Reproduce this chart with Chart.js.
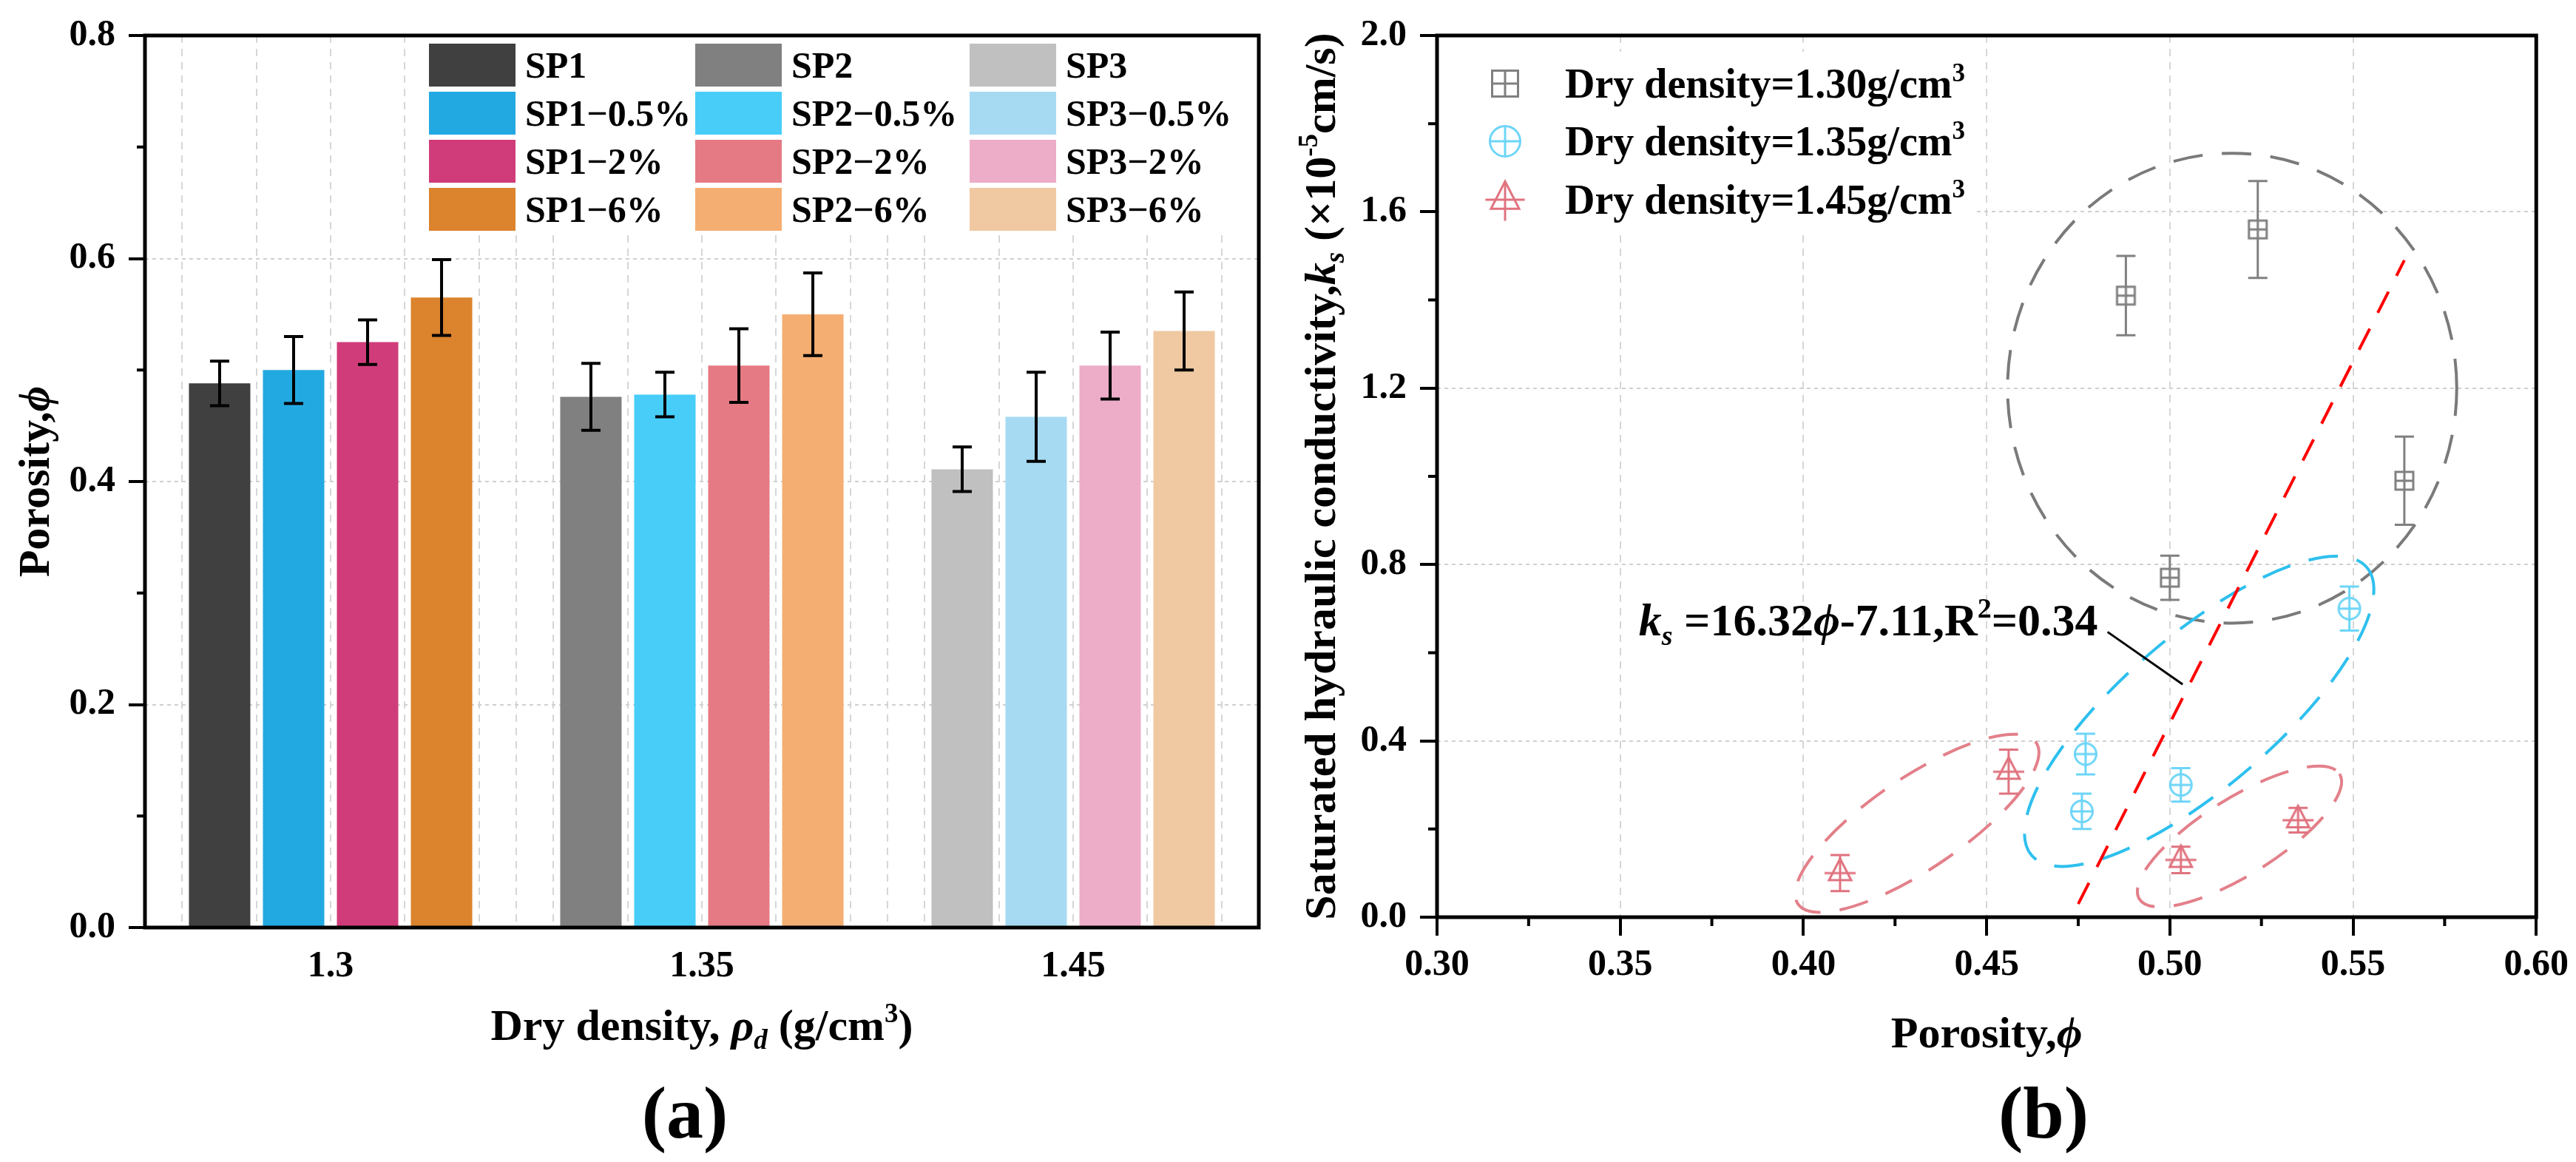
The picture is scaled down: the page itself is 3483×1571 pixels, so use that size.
<!DOCTYPE html>
<html>
<head>
<meta charset="utf-8">
<title>Porosity and saturated hydraulic conductivity</title>
<script src="https://cdn.jsdelivr.net/npm/chart.js@4.4.1/dist/chart.umd.min.js"></script>
<style>
  html, body { margin: 0; padding: 0; background: #fff; }
  #wrap { position: relative; width: 3483px; height: 1571px; }
  canvas { position: absolute; top: 0; }
  #porosityChart { left: 0; }
  #ksChart { left: 1720px; }
</style>
</head>
<body>
<div id="wrap">
  <canvas id="porosityChart" width="1720" height="1571"></canvas>
  <canvas id="ksChart" width="1763" height="1571"></canvas>
</div>
<script>
// (a) porosity by dry density
const densityLabels = ["1.3", "1.35", "1.45"];
const sp1Names = ["SP1", "SP1−0.5%", "SP1−2%", "SP1−6%"];
const sp2Names = ["SP2", "SP2−0.5%", "SP2−2%", "SP2−6%"];
const sp3Names = ["SP3", "SP3−0.5%", "SP3−2%", "SP3−6%"];
const sp1Porosity = [0.488, 0.500, 0.525, 0.565];
const sp2Porosity = [0.476, 0.478, 0.504, 0.550];
const sp3Porosity = [0.411, 0.458, 0.504, 0.535];
const sp1Error = [0.020, 0.030, 0.020, 0.034];
const sp2Error = [0.030, 0.020, 0.033, 0.037];
const sp3Error = [0.020, 0.040, 0.030, 0.035];
const porosityTicks = [0, 0.2, 0.4, 0.6, 0.8];

// (b) ks against porosity
const phi130 = [0.488, 0.524, 0.564, 0.500];
const ks130 = [1.41, 1.56, 0.99, 0.77];
const err130 = [0.09, 0.11, 0.10, 0.05];
const phi135 = [0.549, 0.477, 0.476, 0.503];
const ks135 = [0.70, 0.37, 0.24, 0.30];
const err135 = [0.05, 0.046, 0.04, 0.038];
const phi145 = [0.410, 0.456, 0.503, 0.535];
const ks145 = [0.10, 0.33, 0.13, 0.22];
const err145 = [0.041, 0.05, 0.03, 0.028];
const fitPhi = [0.475, 0.564];
const fitKs = [0.03, 1.49];
const phiTicks = [0.30, 0.35, 0.40, 0.45, 0.50, 0.55, 0.60];
const ksTicks = [0, 0.4, 0.8, 1.2, 1.6, 2.0];
// dashed ellipses: centre and two semi-axes, in data units
const ellipseCentres = [[0.517, 1.200], [0.508, 0.467], [0.431, 0.213], [0.519, 0.183]];
const ellipseAxisA = [[0.0613, 0], [0.0457, 0.327], [0.0325, 0.183], [0.0273, 0.142]];
const ellipseAxisB = [[0, 0.533], [0.0136, -0.130], [0.0071, -0.0855], [0.0056, -0.0733]];
const fitLabelFrom = [0.483, 0.647];
const fitLabelTo = [0.5035, 0.528];

const SERIF = "'Liberation Serif', 'DejaVu Serif', serif";
Chart.defaults.font.family = SERIF;
Chart.defaults.color = "#000";

function fontStr(size, italic) {
  return (italic ? "italic " : "") + "bold " + size + "px " + SERIF;
}

// parts: [text, flags]  i = italic, ^ = superscript, _ = subscript
function drawRich(ctx, parts, x, y, size, align) {
  let w = 0;
  const pieces = parts.map((p) => {
    const f = p[1] || "";
    const small = f.includes("^") || f.includes("_");
    const s = small ? Math.round(size * 0.62) : size;
    const it = f.includes("i");
    ctx.font = fontStr(s, it);
    const piece = { t: p[0], s, it, x: w, dy: f.includes("^") ? -size * 0.4 : f.includes("_") ? size * 0.2 : 0 };
    w += ctx.measureText(p[0]).width;
    return piece;
  });
  const x0 = align === "center" ? x - w / 2 : align === "right" ? x - w : x;
  ctx.textAlign = "left";
  ctx.textBaseline = "alphabetic";
  ctx.fillStyle = "#000";
  pieces.forEach((p) => {
    ctx.font = fontStr(p.s, p.it);
    ctx.fillText(p.t, x0 + p.x, y + p.dy);
  });
  return w;
}

function drawFrame(chart) {
  const { ctx, chartArea: a } = chart;
  ctx.save();
  ctx.strokeStyle = "#000";
  ctx.lineWidth = 5;
  ctx.strokeRect(a.left, a.top, a.right - a.left, a.bottom - a.top);
  ctx.restore();
}

function midValues(ticks) {
  const out = [];
  for (let i = 0; i < ticks.length - 1; i++) out.push((ticks[i] + ticks[i + 1]) / 2);
  return out;
}

function drawMinorTicks(chart, yTicks, xTicks, len) {
  const { ctx, chartArea: a } = chart;
  ctx.save();
  ctx.strokeStyle = "#000";
  ctx.lineWidth = 4;
  ctx.beginPath();
  midValues(yTicks).forEach((v) => {
    const y = chart.scales.y.getPixelForValue(v);
    ctx.moveTo(a.left - len, y);
    ctx.lineTo(a.left, y);
  });
  if (xTicks) {
    midValues(xTicks).forEach((v) => {
      const x = chart.scales.x.getPixelForValue(v);
      ctx.moveTo(x, a.bottom);
      ctx.lineTo(x, a.bottom + len);
    });
  }
  ctx.stroke();
  ctx.restore();
}

// ---------- panel (a) ----------
const groupNames = [sp1Names, sp2Names, sp3Names];
const groupPorosity = [sp1Porosity, sp2Porosity, sp3Porosity];
const groupError = [sp1Error, sp2Error, sp3Error];
const barColors = [
  ["#404040", "#23a9e1", "#d03c7a", "#db832d"],
  ["#808080", "#48cdf9", "#e67a84", "#f4ae72"],
  ["#c0c0c0", "#a6daf2", "#edacc8", "#f0c9a2"]
];

const barDatasets = [];
groupNames.forEach((names, g) => {
  names.forEach((name, k) => {
    barDatasets.push({
      label: name,
      data: densityLabels.map((_, i) => (i === g ? groupPorosity[g][k] : null)),
      errorBars: densityLabels.map((_, i) => (i === g ? groupError[g][k] : null)),
      backgroundColor: barColors[g][k],
      borderWidth: 0,
      skipNull: true
    });
  });
});

const panelA = {
  id: "panelA",
  beforeDatasetsDraw(chart) {
    const ctx = chart.ctx;
    ctx.save();
    ctx.fillStyle = "#fff";
    ctx.fillRect(560, 43, chart.chartArea.right - 563, 275);
    ctx.restore();
  },
  afterDatasetsDraw(chart) {
    const ctx = chart.ctx;
    const yScale = chart.scales.y;
    ctx.save();
    ctx.strokeStyle = "#000";
    ctx.lineWidth = 4;
    chart.data.datasets.forEach((ds, d) => {
      const meta = chart.getDatasetMeta(d);
      ds.data.forEach((v, i) => {
        if (v === null) return;
        const x = meta.data[i].x;
        const yt = yScale.getPixelForValue(v + ds.errorBars[i]);
        const yb = yScale.getPixelForValue(v - ds.errorBars[i]);
        ctx.beginPath();
        ctx.moveTo(x, yt); ctx.lineTo(x, yb);
        ctx.moveTo(x - 13, yt); ctx.lineTo(x + 13, yt);
        ctx.moveTo(x - 13, yb); ctx.lineTo(x + 13, yb);
        ctx.stroke();
      });
    });
    ctx.restore();
  },
  afterDraw(chart) {
    const ctx = chart.ctx;
    drawFrame(chart);
    drawMinorTicks(chart, porosityTicks, null, 11);

    // legend, three columns of four
    const colX = [580, 940, 1311];
    const rowY = [59, 124, 189, 254];
    ctx.save();
    chart.data.datasets.forEach((ds, d) => {
      const col = Math.floor(d / 4), row = d % 4;
      ctx.fillStyle = ds.backgroundColor;
      ctx.fillRect(colX[col], rowY[row], 117, 58);
      ctx.fillStyle = "#000";
      ctx.font = fontStr(50, false);
      ctx.textAlign = "left";
      ctx.textBaseline = "alphabetic";
      ctx.fillText(ds.label, colX[col] + 130, rowY[row] + 29 + 17);
    });

    drawRich(ctx, [["Dry density, "], ["ρ", "i"], ["d", "i_"], [" (g/cm"], ["3", "^"], [")"]], 949, 1406, 60, "center");
    drawRich(ctx, [["(a)"]], 926, 1538, 100, "center");
    ctx.translate(66, (chart.chartArea.top + chart.chartArea.bottom) / 2);
    ctx.rotate(-Math.PI / 2);
    drawRich(ctx, [["Porosity,"], ["ϕ", "i"]], 0, 0, 60, "center");
    ctx.restore();
  }
};

new Chart(document.getElementById("porosityChart"), {
  type: "bar",
  data: { labels: densityLabels, datasets: barDatasets },
  options: {
    responsive: false,
    animation: false,
    devicePixelRatio: 1,
    layout: { padding: { top: 40, right: 18, left: 0, bottom: 0 } },
    datasets: { bar: { categoryPercentage: 0.797, barPercentage: 0.83 } },
    plugins: { legend: { display: false }, tooltip: { enabled: false } },
    scales: {
      x: {
        type: "category",
        grid: { display: false },
        border: { display: false },
        ticks: { font: { size: 50, weight: "bold" }, padding: 15, color: "#000" },
        afterFit: (s) => { s.height = 317; }
      },
      xGrid: {
        type: "linear",
        position: "bottom",
        min: 0,
        max: 3,
        offset: false,
        ticks: { display: false, stepSize: 0.1 },
        grid: {
          offset: false,
          drawTicks: false,
          lineWidth: 2,
          color: (c) => {
            const n = Math.round(c.tick.value * 10);
            return n % 2 === 1 || n % 10 === 0 ? "#d6d6d6" : "rgba(0,0,0,0)";
          }
        },
        border: { display: false, dash: [10, 8] },
        afterFit: (s) => { s.height = 0; }
      },
      y: {
        min: 0,
        max: 0.8,
        afterBuildTicks: (s) => { s.ticks = porosityTicks.map((v) => ({ value: v })); },
        ticks: { callback: (v) => Number(v).toFixed(1), font: { size: 50, weight: "bold" }, padding: 18, color: "#000" },
        grid: { color: "#d0d0d0", lineWidth: 2, tickColor: "#000", tickLength: 22, tickWidth: 4 },
        border: { display: false, dash: [5, 5] },
        afterFit: (s) => { s.width = 196; }
      }
    }
  },
  plugins: [panelA]
});

// ---------- panel (b) ----------
function drawMarker(ctx, shape, color, cx, cy, size, legendTail) {
  const h = size / 2;
  ctx.save();
  ctx.strokeStyle = color;
  ctx.fillStyle = "#fff";
  ctx.lineWidth = 3;
  ctx.beginPath();
  if (shape === "square") {
    ctx.rect(cx - h, cy - h, size, size);
    ctx.fill(); ctx.stroke();
    ctx.beginPath();
    ctx.moveTo(cx, cy - h); ctx.lineTo(cx, cy + h);
    ctx.moveTo(cx - h, cy); ctx.lineTo(cx + h, cy);
  } else if (shape === "circle") {
    ctx.arc(cx, cy, h, 0, Math.PI * 2);
    ctx.fill(); ctx.stroke();
    ctx.beginPath();
    ctx.moveTo(cx, cy - h); ctx.lineTo(cx, cy + h);
    ctx.moveTo(cx - h, cy); ctx.lineTo(cx + h, cy);
  } else {
    const top = cy - size * 0.65, base = cy + size * 0.32;
    ctx.moveTo(cx, top); ctx.lineTo(cx + h, base); ctx.lineTo(cx - h, base); ctx.closePath();
    ctx.fill(); ctx.stroke();
    ctx.beginPath();
    ctx.moveTo(cx, top); ctx.lineTo(cx, legendTail ? cy + size * 0.75 : base);
    ctx.moveTo(cx - size * 0.7, cy); ctx.lineTo(cx + size * 0.7, cy);
  }
  ctx.stroke();
  ctx.restore();
}

function markerImage(shape, color, size) {
  const c = document.createElement("canvas");
  c.width = size * 2 + 8;
  c.height = size * 2 + 8;
  drawMarker(c.getContext("2d"), shape, color, c.width / 2, c.height / 2, size, false);
  return c;
}

const seriesColors = ["#808080", "#6dd5f7", "#e0737f"];
const seriesShapes = ["square", "circle", "triangle"];
const seriesLabels = ["Dry density=1.30g/cm", "Dry density=1.35g/cm", "Dry density=1.45g/cm"];
const seriesPhi = [phi130, phi135, phi145];
const seriesKs = [ks130, ks135, ks145];
const seriesErr = [err130, err135, err145];
const markerSizes = [24, 29, 30];
const legendSizes = [35, 41, 38];
const ellipseColors = ["#7a7a7a", "#2ec0ee", "#e3808a", "#e3808a"];

const scatterDatasets = seriesPhi.map((phis, s) => ({
  label: seriesLabels[s],
  data: phis.map((x, i) => ({ x, y: seriesKs[s][i] })),
  errorBars: seriesErr[s],
  pointStyle: markerImage(seriesShapes[s], seriesColors[s], markerSizes[s]),
  pointRadius: 15,
  order: 1
}));

scatterDatasets.push({
  label: "fit",
  data: fitPhi.map((x, i) => ({ x, y: fitKs[i] })),
  showLine: true,
  borderColor: "#ff0000",
  borderWidth: 4,
  borderDash: [32, 24],
  pointRadius: 0,
  order: 5
});

const panelB = {
  id: "panelB",
  beforeDatasetsDraw(chart) {
    const { ctx, chartArea: a } = chart;
    const xs = chart.scales.x, ys = chart.scales.y;
    ctx.save();
    ctx.fillStyle = "#fff";
    ctx.fillRect(a.left + 3, 70, 950 - a.left, 240);

    ctx.beginPath();
    ctx.rect(a.left, a.top, a.right - a.left, a.bottom - a.top);
    ctx.clip();

    ellipseCentres.forEach((c, e) => {
      const cx = xs.getPixelForValue(c[0]), cy = ys.getPixelForValue(c[1]);
      const ax = xs.getPixelForValue(c[0] + ellipseAxisA[e][0]) - cx;
      const ay = ys.getPixelForValue(c[1] + ellipseAxisA[e][1]) - cy;
      const bx = xs.getPixelForValue(c[0] + ellipseAxisB[e][0]) - cx;
      const by = ys.getPixelForValue(c[1] + ellipseAxisB[e][1]) - cy;
      ctx.save();
      ctx.transform(ax, ay, bx, by, cx, cy);
      ctx.beginPath();
      ctx.arc(0, 0, 1, 0, Math.PI * 2);
      ctx.restore();
      ctx.strokeStyle = ellipseColors[e];
      ctx.lineWidth = 4;
      ctx.setLineDash([40, 26]);
      ctx.stroke();
    });
    ctx.setLineDash([]);

    ctx.lineWidth = 3;
    chart.data.datasets.forEach((ds, d) => {
      if (!ds.errorBars) return;
      ctx.strokeStyle = seriesColors[d];
      ds.data.forEach((p, i) => {
        const x = xs.getPixelForValue(p.x);
        const yt = ys.getPixelForValue(p.y + ds.errorBars[i]);
        const yb = ys.getPixelForValue(p.y - ds.errorBars[i]);
        ctx.beginPath();
        ctx.moveTo(x, yt); ctx.lineTo(x, yb);
        ctx.moveTo(x - 13, yt); ctx.lineTo(x + 13, yt);
        ctx.moveTo(x - 13, yb); ctx.lineTo(x + 13, yb);
        ctx.stroke();
      });
    });
    ctx.restore();
  },
  afterDraw(chart) {
    const { ctx, chartArea: a } = chart;
    const xs = chart.scales.x, ys = chart.scales.y;
    drawFrame(chart);
    drawMinorTicks(chart, ksTicks, phiTicks, 12);

    // legend
    const rows = [113, 191, 270];
    rows.forEach((y, s) => {
      drawMarker(ctx, seriesShapes[s], seriesColors[s], 315, y, legendSizes[s], true);
      drawRich(ctx, [[seriesLabels[s]], ["3", "^"]], 396, y + 19, 56, "left");
    });

    // fit annotation with leader
    const lx1 = xs.getPixelForValue(fitLabelFrom[0]), ly1 = ys.getPixelForValue(fitLabelFrom[1]);
    const lx2 = xs.getPixelForValue(fitLabelTo[0]), ly2 = ys.getPixelForValue(fitLabelTo[1]);
    ctx.save();
    ctx.strokeStyle = "#000";
    ctx.lineWidth = 3;
    ctx.beginPath();
    ctx.moveTo(lx1, ly1); ctx.lineTo(lx2, ly2);
    ctx.stroke();
    drawRich(ctx, [["k", "i"], ["s", "i_"], [" =16.32"], ["ϕ", "i"], ["-7.11,R"], ["2", "^"], ["=0.34"]],
      lx1 - 13, ly1 + 5, 62, "right");

    drawRich(ctx, [["Porosity,"], ["ϕ", "i"]], (a.left + a.right) / 2, 1416, 60, "center");
    drawRich(ctx, [["(b)"]], 1043, 1538, 100, "center");
    ctx.translate(85, (a.top + a.bottom) / 2);
    ctx.rotate(-Math.PI / 2);
    drawRich(ctx, [["Saturated hydraulic conductivity,"], ["k", "i"], ["s", "i_"], [" (×10"], ["-5", "^"], ["cm/s)"]], 0, 0, 60, "center");
    ctx.restore();
  }
};

new Chart(document.getElementById("ksChart"), {
  type: "scatter",
  data: { datasets: scatterDatasets },
  options: {
    responsive: false,
    animation: false,
    devicePixelRatio: 1,
    layout: { padding: { top: 40, right: 51, left: 0, bottom: 0 } },
    plugins: { legend: { display: false }, tooltip: { enabled: false } },
    scales: {
      x: {
        type: "linear",
        min: 0.3,
        max: 0.6,
        afterBuildTicks: (s) => { s.ticks = phiTicks.map((v) => ({ value: v })); },
        ticks: { callback: (v) => Number(v).toFixed(2), font: { size: 50, weight: "bold" }, padding: 10, color: "#000", maxRotation: 0 },
        grid: { color: "#d6d6d6", lineWidth: 2, tickColor: "#000", tickLength: 25, tickWidth: 4 },
        border: { display: false, dash: [10, 8] },
        afterFit: (s) => { s.height = 331; }
      },
      y: {
        min: 0,
        max: 2,
        afterBuildTicks: (s) => { s.ticks = ksTicks.map((v) => ({ value: v })); },
        ticks: { callback: (v) => Number(v).toFixed(1), font: { size: 50, weight: "bold" }, padding: 18, color: "#000" },
        grid: { color: "#d0d0d0", lineWidth: 2, tickColor: "#000", tickLength: 23, tickWidth: 4 },
        border: { display: false, dash: [5, 5] },
        afterFit: (s) => { s.width = 223; }
      }
    }
  },
  plugins: [panelB]
});
</script>
</body>
</html>
